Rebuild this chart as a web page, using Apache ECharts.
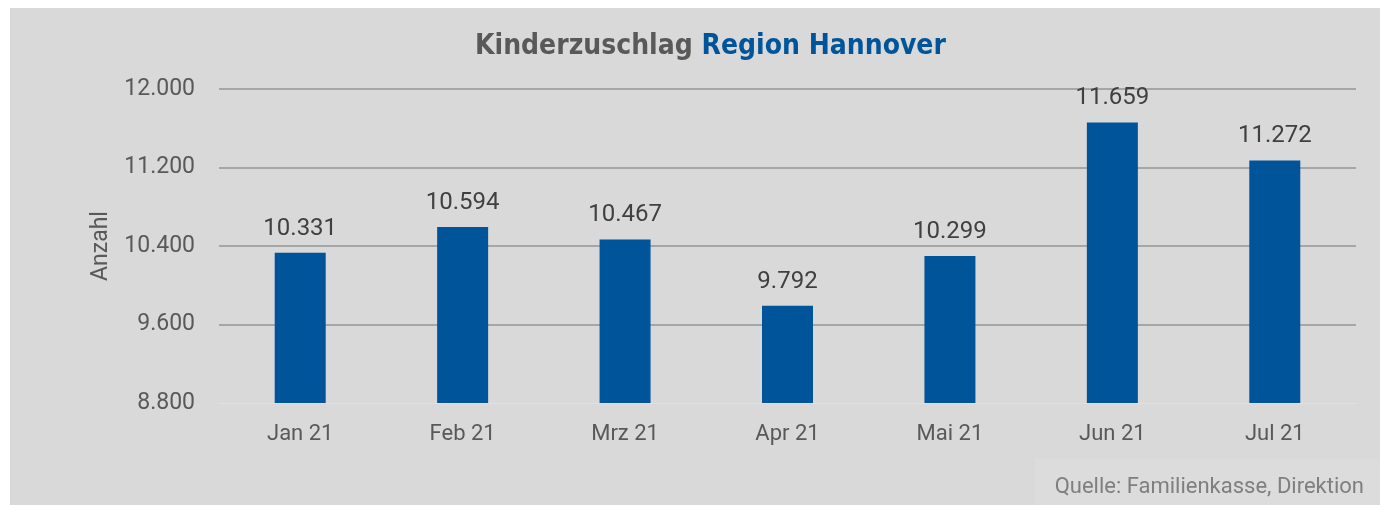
<!DOCTYPE html>
<html>
<head>
<meta charset="utf-8">
<script src="https://cdn.jsdelivr.net/npm/echarts@6/dist/echarts.min.js"></script>
<style>
    html, body { margin: 0; padding: 0; background: #fff; }
    #chart { position: absolute; left: 10px; top: 8px; width: 1370px; height: 497px; background: #d9d9d9; }
</style>
</head>
<body>
<div id="chart"></div>
<script>
const months = ['Jan 21', 'Feb 21', 'Mrz 21', 'Apr 21', 'Mai 21', 'Jun 21', 'Jul 21'];
const counts = [10331, 10594, 10467, 9792, 10299, 11659, 11272];
const yTicks = [8800, 9600, 10400, 11200, 12000];

const fmt = v => Math.round(v).toString().replace(/\B(?=(\d{3})+(?!\d))/g, '.');
const titleFont = '"DejaVu Sans Condensed", "Roboto", sans-serif';

const chart = echarts.init(document.getElementById('chart'));
chart.setOption({
    backgroundColor: '#d9d9d9',
    textStyle: { fontFamily: 'Roboto' },
    title: {
        text: '{a|Kinderzuschlag }{b|Region Hannover}',
        left: 460,
        top: 20,
        textStyle: {
            rich: {
                a: { fontFamily: titleFont, fontWeight: 'bold', fontSize: 28, color: '#595959' },
                b: { fontFamily: titleFont, fontWeight: 'bold', fontSize: 28, color: '#00559a' }
            }
        }
    },
    grid: { left: 209, right: 24, top: 81, bottom: 102 },
    xAxis: {
        type: 'category',
        data: months,
        axisLine: { lineStyle: { color: '#e0e0e0', width: 1 } },
        axisTick: { show: false },
        axisLabel: { color: '#595959', fontSize: 22, margin: 20 }
    },
    yAxis: {
        type: 'value',
        min: yTicks[0],
        max: yTicks[yTicks.length - 1],
        interval: 800,
        name: 'Anzahl',
        nameLocation: 'middle',
        nameGap: 106,
        nameTextStyle: { color: '#595959', fontSize: 23 },
        axisLabel: { color: '#595959', fontSize: 23, margin: 24, formatter: fmt },
        splitLine: { showMinLine: false, lineStyle: { color: '#a6a6a6', width: 2 } },
        axisLine: { show: false },
        axisTick: { show: false }
    },
    series: [{
        type: 'bar',
        data: counts,
        barWidth: 51,
        itemStyle: { color: '#00559a' },
        label: {
            show: true,
            position: 'top',
            distance: 12,
            color: '#404040',
            fontSize: 24,
            formatter: p => fmt(p.value)
        }
    }],
    graphic: [{
        type: 'rect',
        right: 0,
        bottom: 0,
        shape: { width: 345, height: 46 },
        style: { fill: '#dcdcdc' },
        z: 0
    }, {
        type: 'text',
        right: 16,
        bottom: 7,
        style: { text: 'Quelle: Familienkasse, Direktion', fill: '#7f7f7f', fontSize: 22, fontFamily: 'Roboto' },
        z: 1
    }]
});
</script>
</body>
</html>
